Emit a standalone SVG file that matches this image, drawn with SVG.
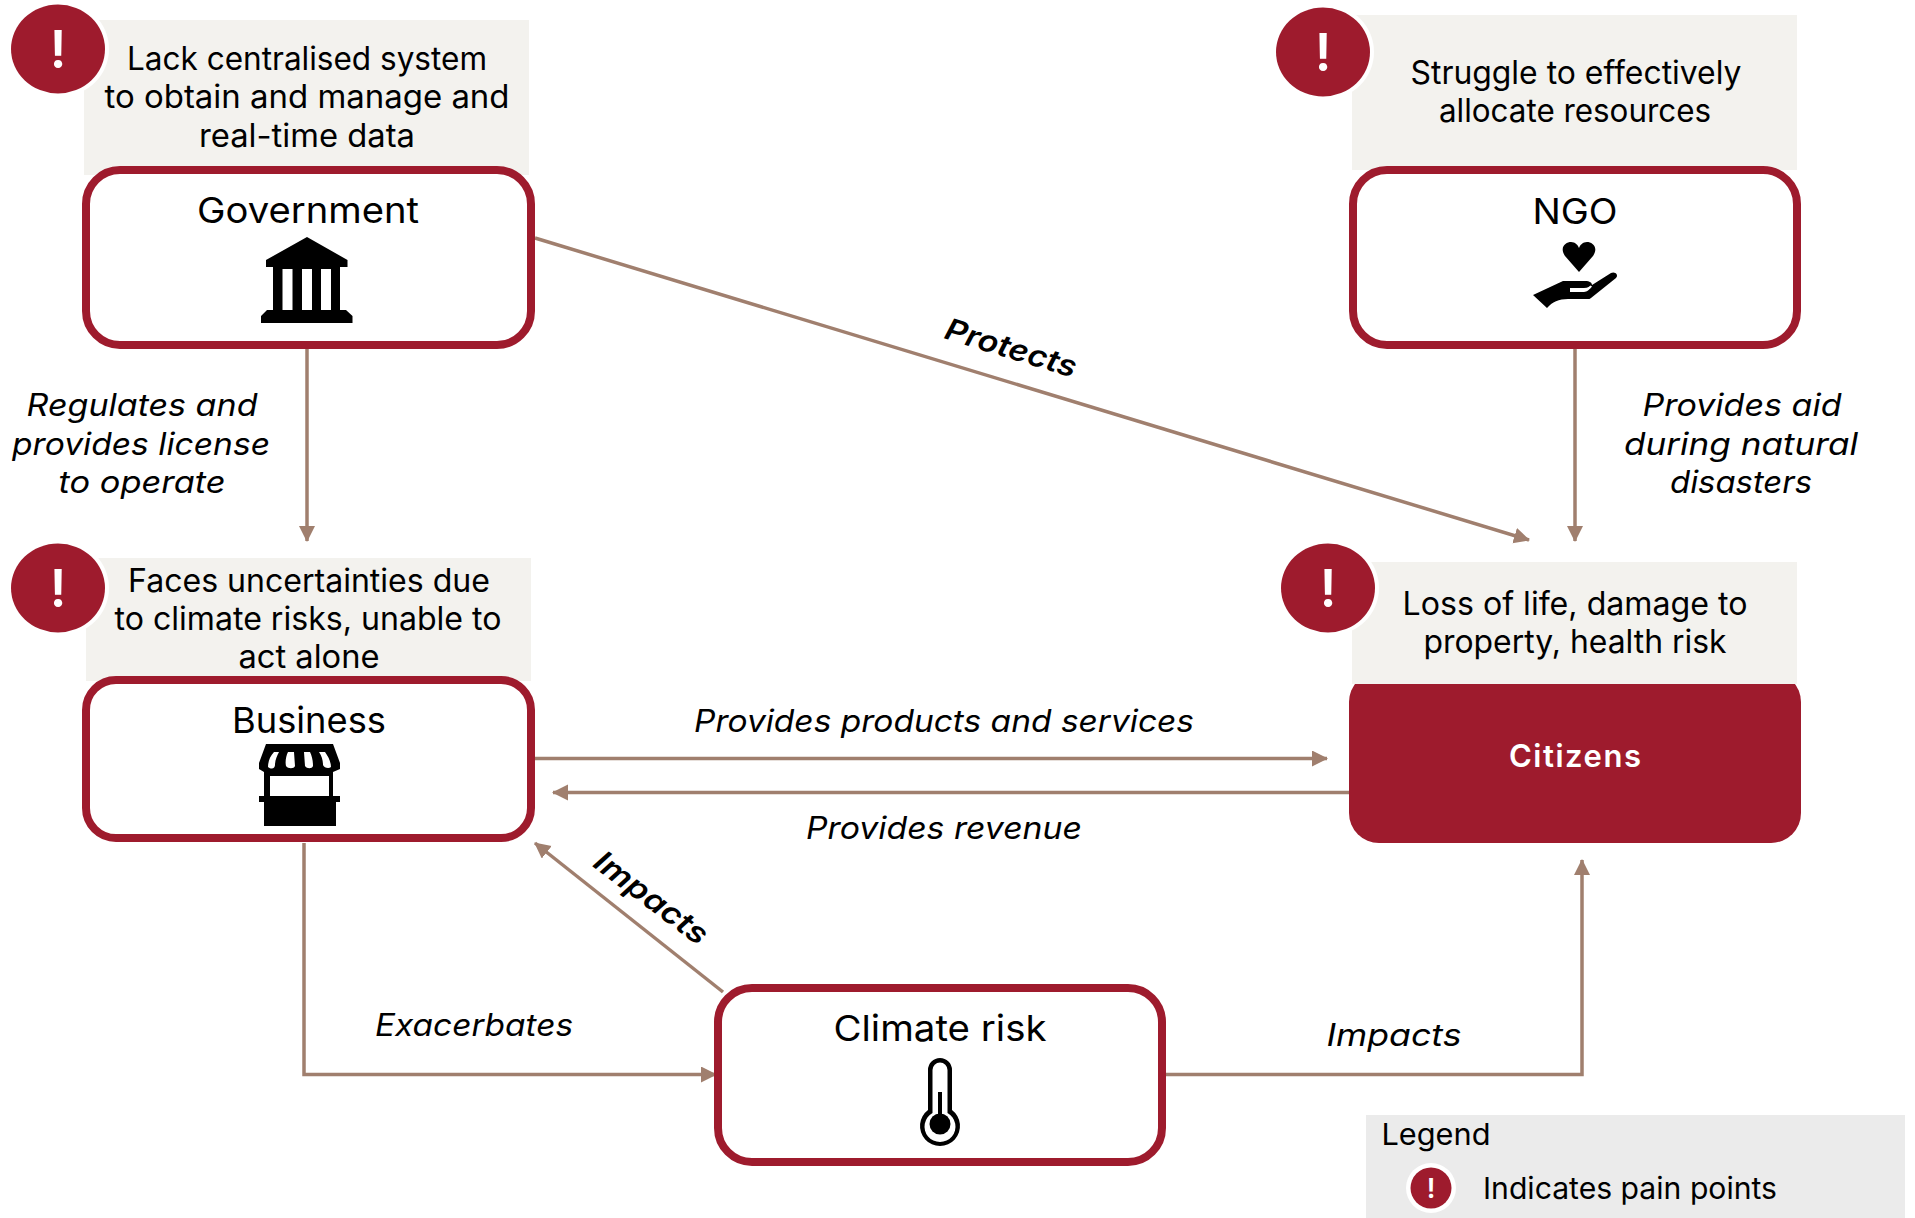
<svg xmlns="http://www.w3.org/2000/svg" width="1915" height="1218" viewBox="0 0 1915 1218">
<style>
text{font-family:"Inter","Noto Sans",sans-serif;fill:#000;text-anchor:middle}
.c{font-size:32px}
.t{font-size:36px}
.l{font-size:31px;font-style:italic}
.r{font-size:30px;font-style:italic;font-weight:600}
.n{fill:#fff;stroke:#9e1b2d;stroke-width:8}
.b{fill:#f3f2ee}
.line{fill:none;stroke:#a07f6e;stroke-width:3.500}
.ring{fill:#fff}
.dot{fill:#9e1b2d}
.ex{fill:#fff;font-weight:600}
</style>
<defs>
<marker id="arr" markerUnits="userSpaceOnUse" markerWidth="17" markerHeight="17" refX="15" refY="8" orient="auto"><path d="M0 0L16 8L0 16Z" fill="#a07f6e"/></marker>
<g id="alert"><ellipse class="ring" cx="4" cy="0" rx="47" ry="47"/><ellipse class="dot" cx="0" cy="0" rx="47" ry="44.500"/><text class="ex" x="0" y="19" font-size="52">!</text></g>
</defs>
<rect width="1915" height="1218" fill="#fff"/>
<g id="connectors" class="line">
<path class="line" marker-end="url(#arr)" d="M307 349V541"/>
<path class="line" marker-end="url(#arr)" d="M535 238L1529 540"/>
<path class="line" marker-end="url(#arr)" d="M1575 349V541"/>
<path class="line" marker-end="url(#arr)" d="M535 758.500H1327"/>
<path class="line" marker-end="url(#arr)" d="M1349 792.500H553"/>
<path class="line" marker-end="url(#arr)" d="M723 992L535 843"/>
<path class="line" marker-end="url(#arr)" d="M304 843V1074.500H716"/>
<path class="line" marker-end="url(#arr)" d="M1166 1074.500H1582V860"/>
</g>
<g id="government">
<rect class="b" x="84" y="20" width="445" height="155"/>
<rect class="n" x="86" y="170" width="445" height="175" rx="34"/>
<use href="#alert" x="58" y="49"/>
<text class="c" x="307" y="70" textLength="360" lengthAdjust="spacingAndGlyphs">Lack centralised system</text>
<text class="c" x="307" y="108" textLength="405" lengthAdjust="spacingAndGlyphs">to obtain and manage and</text>
<text class="c" x="307" y="147" textLength="216" lengthAdjust="spacingAndGlyphs">real-time data</text>
<text class="t" x="308" y="223" textLength="222" lengthAdjust="spacingAndGlyphs">Government</text>
<path d="M307 237L347.500 260V267H340V310H346L352.500 316V323H261V316L267 310H273V267H266V260Z"/>
<path fill="#fff" d="M282.500 269h10v41h-10zM302 269h10v41h-10zM321 269h10v41h-10z"/>
</g>
<g id="ngo">
<rect class="b" x="1352" y="15" width="445" height="155"/>
<rect class="n" x="1353" y="170" width="444" height="175" rx="34"/>
<use href="#alert" x="1323" y="52"/>
<text class="c" x="1576" y="84" textLength="331" lengthAdjust="spacingAndGlyphs">Struggle to effectively</text>
<text class="c" x="1575" y="122" textLength="272" lengthAdjust="spacingAndGlyphs">allocate resources</text>
<text class="t" x="1575" y="224" textLength="85" lengthAdjust="spacingAndGlyphs">NGO</text>
<path d="M1579 272L1565 256C1559 247 1566 242 1571 242C1575 242 1578 245 1579 248C1580 245 1583 242 1587 242C1592 242 1599 247 1593 256Z"/>
<path d="M1533 295L1563 281H1585C1590 281 1592 283 1592 285L1611 273C1615 271 1619 275 1616 278L1591 298C1590 299 1589 299 1588 299H1568C1559 299 1552 302 1547 308Z"/>
<path d="M1570 288H1584C1588 288 1590 286 1590.500 285.500L1592 286.500C1590 289 1587 292 1584 292H1570Z" fill="#fff"/>
</g>
<g id="business">
<rect class="b" x="86" y="558" width="445" height="123"/>
<rect class="n" x="86" y="680" width="445" height="158" rx="30"/>
<use href="#alert" x="58" y="588"/>
<text class="c" x="309" y="592" textLength="362" lengthAdjust="spacingAndGlyphs">Faces uncertainties due</text>
<text class="c" x="308" y="630" textLength="387" lengthAdjust="spacingAndGlyphs">to climate risks, unable to</text>
<text class="c" x="309" y="668" textLength="141" lengthAdjust="spacingAndGlyphs">act alone</text>
<text class="t" x="309" y="733" textLength="154" lengthAdjust="spacingAndGlyphs">Business</text>
<path d="M266 744H333L340 763V769L333 772V796H340V802H336V826H264V802H259V796H264V772L259 769V763Z"/>
<path fill="#fff" d="M270 776H329V796H270ZM274 752C270 756 268 762 268 767C272 770 275 768 275 765C275 760 277 756 279 752ZM288 752C286 756 285 762 286 766C288 769 294 769 295 766L294 752ZM304 752L305 766C307 769 312 769 313 766C313 761 312 756 310 752ZM319 752C322 756 323 761 323 765C324 768 329 769 331 767C331 762 328 756 325 752Z"/>
</g>
<g id="citizens">
<rect x="1349" y="672" width="452" height="171" rx="30" fill="#9e1b2d"/>
<rect class="b" x="1352" y="562" width="445" height="122"/>
<use href="#alert" x="1328" y="588"/>
<text class="c" x="1575" y="615" textLength="345" lengthAdjust="spacingAndGlyphs">Loss of life, damage to</text>
<text class="c" x="1575" y="653" textLength="303" lengthAdjust="spacingAndGlyphs">property, health risk</text>
<text x="1575" y="767" font-size="31" font-weight="600" style="fill:#fff" textLength="132" lengthAdjust="spacing">Citizens</text>
</g>
<g id="climate-risk">
<rect class="n" x="718" y="988" width="444" height="174" rx="34"/>
<text class="t" x="940" y="1041" textLength="213" lengthAdjust="spacingAndGlyphs">Climate risk</text>
<path d="M928 1070A12 12 0 0 1 952 1070V1110A20 20 0 1 1 928 1110Z"/>
<path fill="#fff" d="M932.500 1070A7.500 7.500 0 0 1 947.500 1070V1113A15.500 15.500 0 1 1 932.500 1113Z"/>
<circle cx="940" cy="1124" r="10.500"/>
<rect x="938" y="1092" width="4" height="30"/>
</g>
<g id="labels">
<text class="l" x="142" y="416" textLength="231" lengthAdjust="spacingAndGlyphs">Regulates and</text>
<text class="l" x="141" y="455" textLength="258" lengthAdjust="spacingAndGlyphs">provides license</text>
<text class="l" x="142" y="493" textLength="167" lengthAdjust="spacingAndGlyphs">to operate</text>
<text class="l" x="1742" y="416" textLength="199" lengthAdjust="spacingAndGlyphs">Provides aid</text>
<text class="l" x="1741" y="455" textLength="234" lengthAdjust="spacingAndGlyphs">during natural</text>
<text class="l" x="1741" y="493" textLength="142" lengthAdjust="spacingAndGlyphs">disasters</text>
<text class="l" x="944" y="732" textLength="500" lengthAdjust="spacingAndGlyphs">Provides products and services</text>
<text class="l" x="944" y="839" textLength="276" lengthAdjust="spacingAndGlyphs">Provides revenue</text>
<text class="l" x="474" y="1036" textLength="198" lengthAdjust="spacingAndGlyphs">Exacerbates</text>
<text class="l" x="1394" y="1046" textLength="135" lengthAdjust="spacingAndGlyphs">Impacts</text>
<text class="r" transform="translate(1008 358) rotate(17)" textLength="136" lengthAdjust="spacingAndGlyphs">Protects</text>
<text class="r" transform="translate(645 906) rotate(37)" textLength="134" lengthAdjust="spacingAndGlyphs">Impacts</text>
</g>
<g id="legend">
<rect x="1366" y="1115" width="539" height="103" fill="#ebebeb"/>
<text x="1436" y="1145" font-size="30" textLength="109" lengthAdjust="spacingAndGlyphs">Legend</text>
<circle cx="1431" cy="1188" r="25" fill="#fff"/>
<circle cx="1431" cy="1188" r="20.500" fill="#9e1b2d"/>
<text class="ex" x="1431" y="1198" font-size="27">!</text>
<text x="1630" y="1199" font-size="30" textLength="294" lengthAdjust="spacingAndGlyphs">Indicates pain points</text>
</g>
</svg>
